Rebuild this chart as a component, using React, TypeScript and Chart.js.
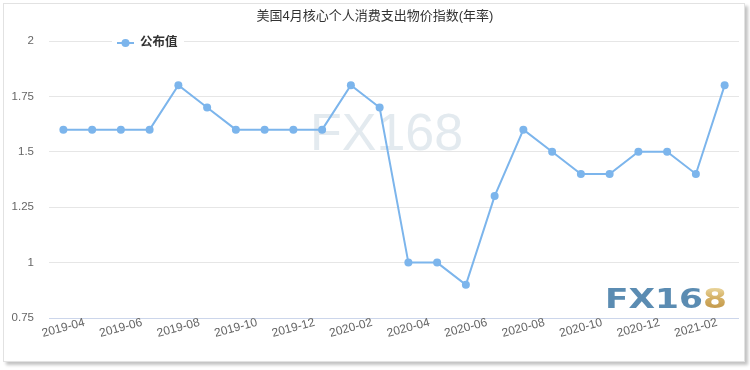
import { useEffect, useRef } from 'react';
import { Chart, registerables } from 'chart.js';

Chart.register(...registerables);

// Monthly core PCE price index, year-over-year (%)
const months = [
  '2019-04', '2019-05', '2019-06', '2019-07', '2019-08', '2019-09',
  '2019-10', '2019-11', '2019-12', '2020-01', '2020-02', '2020-03',
  '2020-04', '2020-05', '2020-06', '2020-07', '2020-08', '2020-09',
  '2020-10', '2020-11', '2020-12', '2021-01', '2021-02', '2021-03',
];
const published = [
  1.6, 1.6, 1.6, 1.6, 1.8, 1.7,
  1.6, 1.6, 1.6, 1.6, 1.8, 1.7,
  1.0, 1.0, 0.9, 1.3, 1.6, 1.5,
  1.4, 1.4, 1.5, 1.5, 1.4, 1.8,
];
const yTicks = [0.75, 1, 1.25, 1.5, 1.75, 2];
const chartTitle = '美国4月核心个人消费支出物价指数(年率)';
const seriesName = '公布值';
const brand = 'FX168';

const LINE = '#7cb5ec';
const SANS = '"Liberation Sans", Arial, "Noto Sans CJK SC", sans-serif';
const CJK = '"Liberation Sans", "Noto Sans CJK SC", sans-serif';

const decorPlugin = {
  id: 'decor',
  beforeDatasetsDraw(chart: any) {
    const ctx = chart.ctx as CanvasRenderingContext2D;
    // faint watermark behind the series
    ctx.save();
    ctx.font = '52px ' + SANS;
    ctx.fillStyle = 'rgba(200, 214, 224, 0.5)';
    ctx.textAlign = 'left';
    ctx.textBaseline = 'alphabetic';
    ctx.fillText(brand, 310, 150);
    ctx.restore();
  },
  afterDraw(chart: any) {
    const ctx = chart.ctx as CanvasRenderingContext2D;
    const x = chart.scales.x;

    // title
    ctx.save();
    ctx.font = '13px ' + CJK;
    ctx.fillStyle = '#333333';
    ctx.textAlign = 'center';
    ctx.textBaseline = 'middle';
    ctx.fillText(chartTitle, 375, 16);
    ctx.restore();

    // rotated category labels, centred under every other month
    ctx.save();
    ctx.font = '12px ' + SANS;
    ctx.fillStyle = '#666666';
    ctx.textAlign = 'center';
    ctx.textBaseline = 'middle';
    months.forEach((m, i) => {
      if (i % 2 !== 0) return;
      const px = x.getPixelForValue(i);
      ctx.save();
      ctx.translate(px, 328);
      ctx.rotate((-15 * Math.PI) / 180);
      ctx.fillText(m, 0, 0);
      ctx.restore();
    });
    ctx.restore();

    // floating legend
    ctx.save();
    ctx.fillStyle = '#ffffff';
    ctx.fillRect(112, 33, 72, 20);
    ctx.strokeStyle = LINE;
    ctx.lineWidth = 2;
    ctx.beginPath();
    ctx.moveTo(117, 43);
    ctx.lineTo(134, 43);
    ctx.stroke();
    ctx.fillStyle = LINE;
    ctx.beginPath();
    ctx.arc(125.5, 43, 4, 0, Math.PI * 2);
    ctx.fill();
    ctx.font = 'bold 12.5px ' + CJK;
    ctx.fillStyle = '#333333';
    ctx.textAlign = 'left';
    ctx.textBaseline = 'middle';
    ctx.fillText(seriesName, 140, 43);
    ctx.restore();

    // brand mark, bottom right
    ctx.save();
    ctx.font = 'bold 27px "DejaVu Sans", sans-serif';
    ctx.textBaseline = 'alphabetic';
    ctx.textAlign = 'left';
    const full = ctx.measureText(brand).width;
    const sx = 122 / full;
    const head = brand.slice(0, 4);
    const tail = brand.slice(4);
    ctx.translate(605, 308);
    ctx.scale(sx, 1);
    ctx.fillStyle = '#5b8cb2';
    ctx.fillText(head, 0, 0);
    const hw = ctx.measureText(head).width;
    const g = ctx.createLinearGradient(0, -20, 0, 0);
    g.addColorStop(0, '#e9d49a');
    g.addColorStop(0.5, '#d4b064');
    g.addColorStop(1, '#c49a4c');
    ctx.fillStyle = g;
    ctx.fillText(tail, hw, 0);
    ctx.restore();
  },
};

export default function App() {
  const ref = useRef<HTMLCanvasElement | null>(null);

  useEffect(() => {
    if (!ref.current) return;
    const chart = new Chart(ref.current, {
      type: 'line',
      data: {
        labels: months,
        datasets: [
          {
            label: seriesName,
            data: published,
            borderColor: LINE,
            backgroundColor: LINE,
            borderWidth: 2,
            pointRadius: 4,
            pointHoverRadius: 4,
            pointBorderWidth: 0,
            pointBackgroundColor: LINE,
            tension: 0,
            fill: false,
          },
        ],
      },
      options: {
        responsive: false,
        animation: false,
        layout: { padding: { left: 0, right: 11, top: 41, bottom: 52 } },
        plugins: {
          legend: { display: false },
          title: { display: false },
          tooltip: { enabled: false },
        },
        scales: {
          x: {
            display: false,
            offset: true,
          },
          y: {
            min: 0.75,
            max: 2,
            afterFit(scale: any) {
              scale.width = 49;
            },
            afterBuildTicks(scale: any) {
              scale.ticks = yTicks.map((v) => ({ value: v }));
            },
            border: { display: false },
            grid: {
              drawTicks: false,
              color: (c: any) => (c.tick && c.tick.value === 0.75 ? '#ccd6eb' : '#e6e6e6'),
              lineWidth: 1,
            },
            ticks: {
              padding: 15,
              color: '#666666',
              font: { family: SANS, size: 11.5 },
              callback: (v: any) => String(v),
            },
          },
        },
      },
      plugins: [decorPlugin],
    });
    return () => chart.destroy();
  }, []);

  return (
    <div
      style={{
        position: 'fixed',
        left: 0,
        top: 0,
        width: 750,
        height: 370,
        background: '#ffffff',
      }}
    >
      <div
        style={{
          position: 'absolute',
          left: 3,
          top: 3,
          width: 742,
          height: 359,
          boxSizing: 'border-box',
          border: '1px solid #e2e2e2',
          boxShadow: '3px 3px 3px #c4c4c4',
        }}
      />
      <canvas
        ref={ref}
        width={750}
        height={370}
        style={{ position: 'absolute', left: 0, top: 0 }}
      />
    </div>
  );
}
